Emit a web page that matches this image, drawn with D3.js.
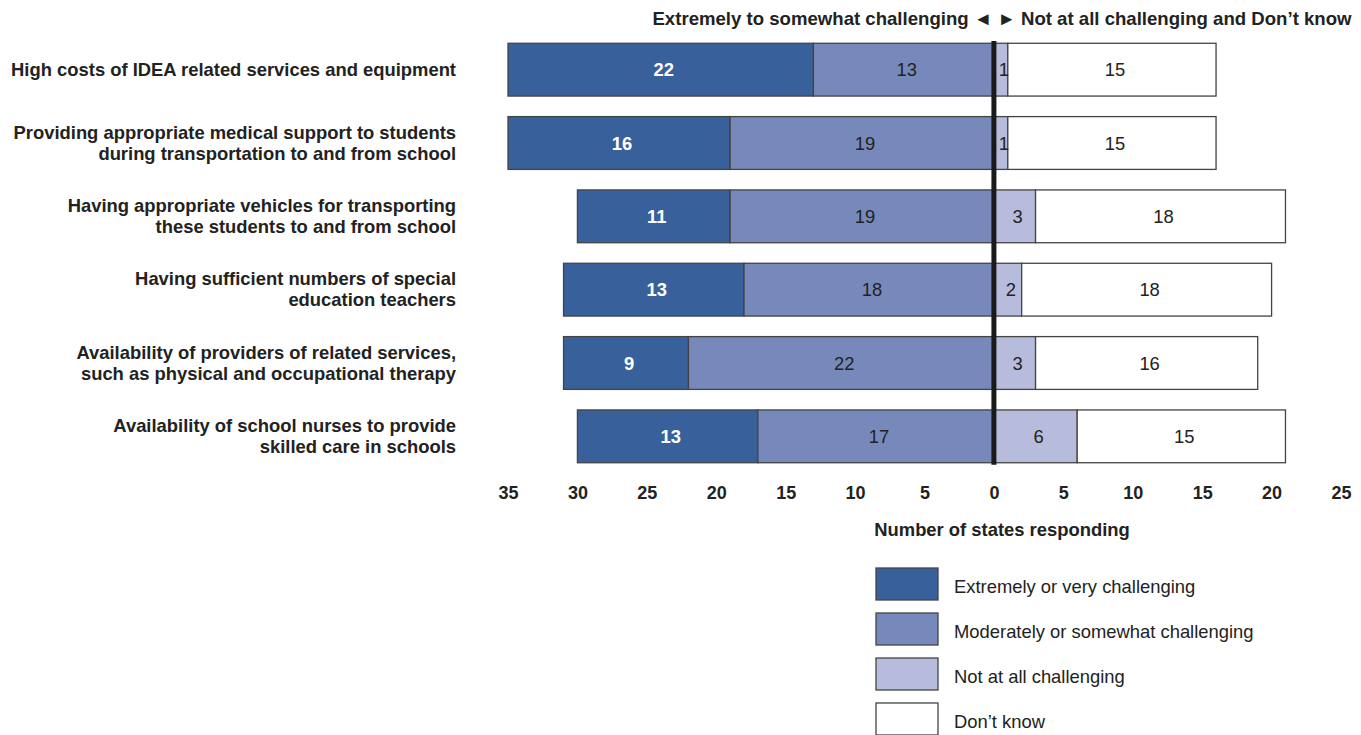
<!DOCTYPE html>
<html><head><meta charset="utf-8">
<script src="https://cdn.jsdelivr.net/npm/d3@7"></script>
<style>
body{margin:0;background:#fff;}
.narrow{font-family:"Liberation Sans Narrow","Arial Narrow","Liberation Sans",sans-serif;font-weight:bold;}
</style>
</head><body>
<svg id="chart" width="1361" height="735"></svg>
<script>
const categories = [
  ["High costs of IDEA related services and equipment"],
  ["Providing appropriate medical support to students","during transportation to and from school"],
  ["Having appropriate vehicles for transporting","these students to and from school"],
  ["Having sufficient numbers of special","education teachers"],
  ["Availability of providers of related services,","such as physical and occupational therapy"],
  ["Availability of school nurses to provide","skilled care in schools"]
];
const extremely = [22,16,11,13,9,13];
const moderately = [13,19,19,18,22,17];
const notAtAll = [1,1,3,2,3,6];
const dontKnow = [15,15,18,18,16,15];
const tickValues = [-35,-30,-25,-20,-15,-10,-5,0,5,10,15,20,25];
const seriesNames = ["Extremely or very challenging","Moderately or somewhat challenging","Not at all challenging","Don\u2019t know"];
const colors = ["#38619c","#7789bb","#b8bcdc","#ffffff"];

const svg = d3.select("#chart");
const x = d3.scaleLinear().domain([-35,25]).range([508,1341]);
const y = d3.scaleBand().domain(d3.range(categories.length)).range([33,473]).paddingInner(0.28).paddingOuter(0.14);

const segs = [];
categories.forEach((c,i)=>{
  segs.push({i,s:0,x0:-(extremely[i]+moderately[i]),x1:-moderately[i],v:extremely[i]});
  segs.push({i,s:1,x0:-moderately[i],x1:0,v:moderately[i]});
  segs.push({i,s:2,x0:0,x1:notAtAll[i],v:notAtAll[i]});
  segs.push({i,s:3,x0:notAtAll[i],x1:notAtAll[i]+dontKnow[i],v:dontKnow[i]});
});

svg.append("g").selectAll("rect").data(segs).join("rect")
  .attr("x",d=>x(d.x0)).attr("width",d=>x(d.x1)-x(d.x0))
  .attr("y",d=>y(d.i)).attr("height",y.bandwidth())
  .attr("fill",d=>colors[d.s]).attr("stroke","#444").attr("stroke-width",1.3);

svg.append("g").selectAll("text").data(segs).join("text")
  .attr("x",d=>(x(d.x0)+x(d.x1))/2+3).attr("y",d=>y(d.i)+y.bandwidth()/2)
  .attr("dy","0.36em").attr("text-anchor","middle")
  .attr("font-family","Liberation Sans, Arial, sans-serif").attr("font-size",18.4)
  .attr("font-weight",d=>d.s===0?"bold":"normal")
  .attr("fill",d=>d.s===0?"#fff":"#222")
  .text(d=>d.v);

// zero line
svg.append("line").attr("x1",x(0)).attr("x2",x(0)).attr("y1",41).attr("y2",y(5)+y.bandwidth()+2)
  .attr("stroke","#1a1a1a").attr("stroke-width",5);

// category labels
const lab = svg.append("g").attr("font-family","Liberation Sans, Arial, sans-serif").attr("font-weight","bold").attr("font-size",18.4).attr("fill","#222");
categories.forEach((lines,i)=>{
  const cy = y(i)+y.bandwidth()/2 - 0.5;
  const t = lab.append("text").attr("text-anchor","end");
  lines.forEach((l,k)=>{
    t.append("tspan").attr("x",456).attr("y",cy+(k-(lines.length-1)/2)*21).attr("dy","0.36em").text(l);
  });
});

// axis
const axis = d3.axisBottom(x).tickValues(tickValues).tickSize(0).tickPadding(0).tickFormat(d=>Math.abs(d));
const ag = svg.append("g").attr("transform","translate(0,486)").call(axis);
ag.select(".domain").remove();
ag.selectAll("text").attr("class","narrow").attr("fill","#222").attr("dy","0.71em")
  .style("font-family","Liberation Sans Narrow, Arial Narrow, Liberation Sans, sans-serif").style("font-weight","bold").style("font-size","18px");

svg.append("text").attr("class","narrow").attr("x",1002).attr("y",536).attr("text-anchor","middle")
  .attr("font-size",18.4).attr("fill","#222").text("Number of states responding");

svg.append("text").attr("class","narrow").attr("x",1002).attr("y",25).attr("text-anchor","middle")
  .attr("font-size",18.6).attr("fill","#222").text("Extremely to somewhat challenging \u25C4 \u25BA Not at all challenging and Don\u2019t know");

// legend
const lg = svg.append("g");
seriesNames.forEach((n,k)=>{
  const ty = 568+k*45;
  lg.append("rect").attr("x",876).attr("y",ty).attr("width",62).attr("height",32)
    .attr("fill",colors[k]).attr("stroke","#444").attr("stroke-width",1.3);
  lg.append("text").attr("x",954).attr("y",ty+18).attr("dy","0.36em")
    .attr("font-family","Liberation Sans, Arial, sans-serif").attr("font-size",18.4).attr("fill","#222").text(n);
});
</script>
</body></html>
